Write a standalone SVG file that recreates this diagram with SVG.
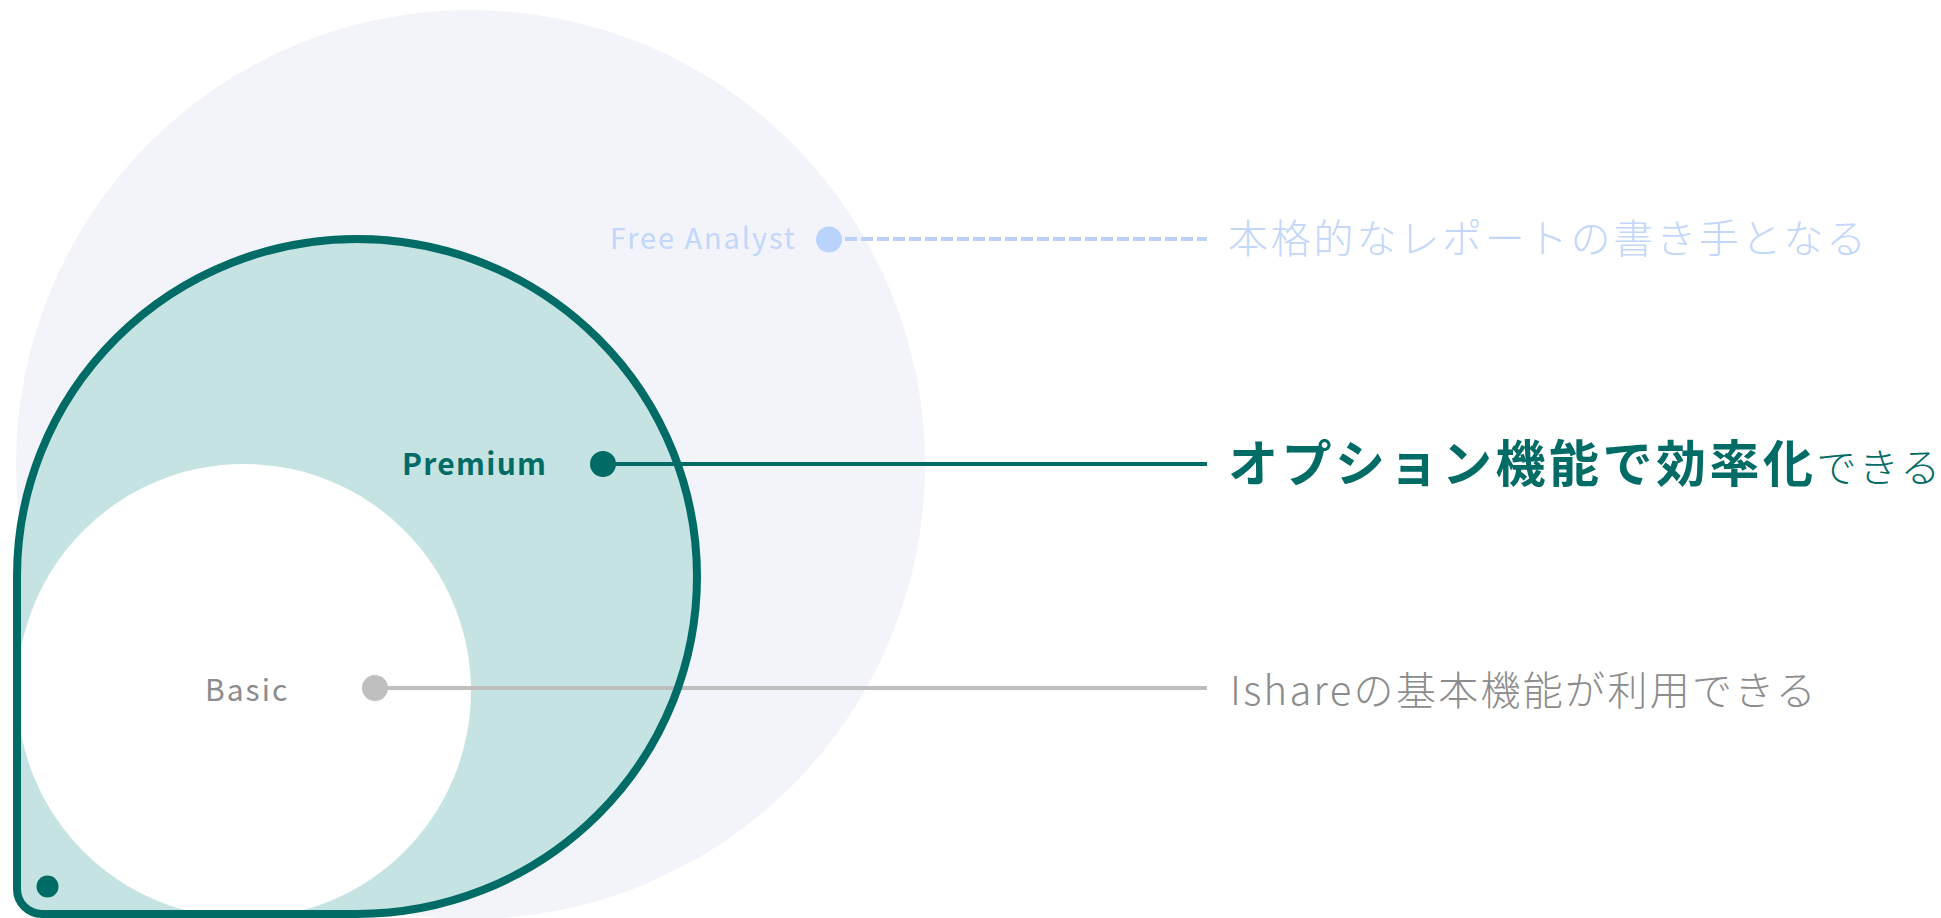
<svg xmlns="http://www.w3.org/2000/svg" width="1941" height="918" viewBox="0 0 1941 918">
<defs>
<style>
.lat{font-family:"Noto Sans CJK JP","Noto Sans",sans-serif;}
.jp{font-family:"Noto Sans CJK JP",sans-serif;font-weight:300;font-size:40px;letter-spacing:2.3px;}
</style>
<clipPath id="tealClip">
<path d="M 17 576.5 A 340 337.5 0 1 1 357 914 L 42 914 A 25 25 0 0 1 17 889 Z"/>
</clipPath>
</defs>
<rect width="1941" height="918" fill="#ffffff"/>
<g id="free-analyst-area">
<circle cx="470.5" cy="464.5" r="454.5" fill="#f3f4f9"/>
</g>
<g id="premium-area">
<path d="M 17 576.5 A 340 337.5 0 1 1 357 914 L 42 914 A 25 25 0 0 1 17 889 Z" fill="#c4e3e2"/>
</g>
<g id="basic-area">
<circle cx="244" cy="691" r="227" fill="#ffffff" clip-path="url(#tealClip)"/>
</g>
<g id="connectors">
<line x1="375" y1="688" x2="1207" y2="688" stroke="#bfbfbf" stroke-width="4"/>
<path d="M 17 576.5 A 340 337.5 0 1 1 357 914 L 42 914 A 25 25 0 0 1 17 889 Z" fill="none" stroke="#016b66" stroke-width="8"/>
<line x1="603" y1="464" x2="1207" y2="464" stroke="#016b66" stroke-width="4"/>
<line x1="829" y1="239" x2="1207" y2="239" stroke="#b9d3fc" stroke-width="4" stroke-dasharray="12 4"/>
</g>
<g id="node-free-analyst">
<circle cx="829" cy="239.5" r="13" fill="#b9d3fc"/>
<text class="lat" x="610" y="249" font-size="29" letter-spacing="1.9" fill="#c2d7f9">Free Analyst</text>
<text class="jp" x="1228" y="252.5" fill="#c2d7f9" style="letter-spacing:2.8px">本格的なレポートの書き手となる</text>
</g>
<g id="node-premium">
<circle cx="603" cy="464" r="13" fill="#016b66"/>
<text class="lat" x="402" y="475" font-size="30" font-weight="700" letter-spacing="1.3" fill="#016b66">Premium</text>
<text x="1228" y="482" fill="#016b66"><tspan font-family="'Noto Sans CJK JP',sans-serif" font-weight="700" font-size="50" letter-spacing="3.5">オプション機能で効率化</tspan><tspan class="jp">できる</tspan></text>
</g>
<g id="node-basic">
<circle cx="375" cy="688" r="13" fill="#bfbfbf"/>
<text class="lat" x="205" y="701" font-size="30" letter-spacing="2" fill="#8c8c8c">Basic</text>
<text class="jp" x="1230" y="705" fill="#8c8c8c">Ishareの基本機能が利用できる</text>
</g>
<g id="corner-dot">
<circle cx="47.5" cy="886.5" r="11" fill="#016b66"/>
</g>
</svg>
